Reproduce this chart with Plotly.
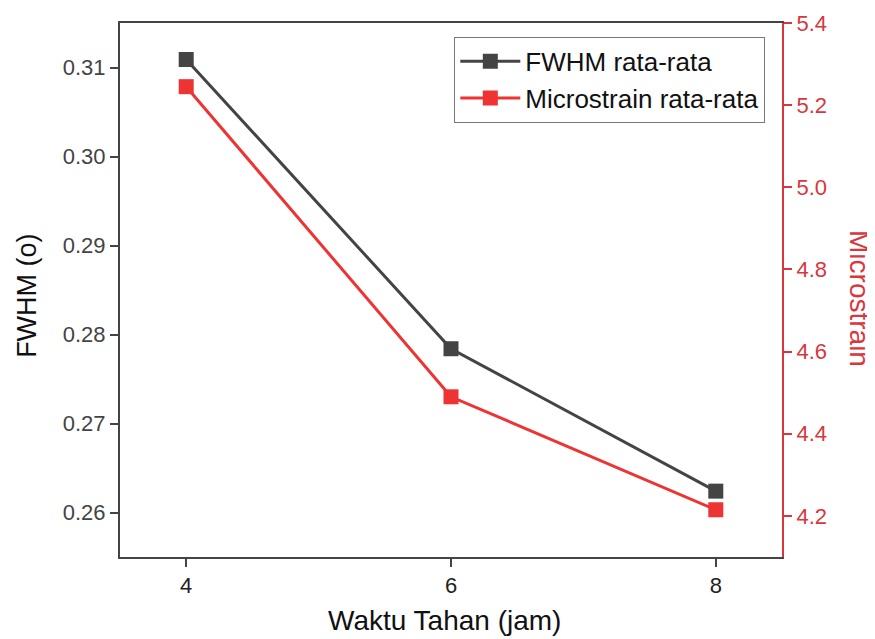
import plotly.graph_objects as go

waktu = [4, 6, 8]
fwhm = [0.3109, 0.2784, 0.2624]
microstrain = [5.245, 4.49, 4.215]

x_ticks = [4, 6, 8]
fwhm_ticks = [0.26, 0.27, 0.28, 0.29, 0.30, 0.31]
micro_ticks = [4.2, 4.4, 4.6, 4.8, 5.0, 5.2, 5.4]

BLACK = "#444444"
RED = "#ee3333"
AXRED = "#d9363e"
FONT = "Liberation Sans, Arial, sans-serif"

fig = go.Figure()
fig.add_trace(go.Scatter(
    x=waktu, y=fwhm, name="FWHM rata-rata", mode="lines+markers",
    line=dict(color=BLACK, width=3),
    marker=dict(symbol="square", size=15, color=BLACK),
    yaxis="y",
))
fig.add_trace(go.Scatter(
    x=waktu, y=microstrain, name="Microstrain rata-rata", mode="lines+markers",
    line=dict(color=RED, width=3),
    marker=dict(symbol="square", size=15, color=RED),
    yaxis="y2",
))

# the page body adds an 8px offset, so the figure is 8px smaller
fig.update_layout(
    width=867, height=631,
    margin=dict(l=112, r=93, t=15, b=82, autoexpand=False),
    paper_bgcolor="white", plot_bgcolor="white",
    font=dict(family=FONT, size=20, color=BLACK),
    showlegend=True,
    legend=dict(
        x=0.505, y=0.974, xanchor="left", yanchor="top",
        bordercolor="#777777", borderwidth=1, bgcolor="white",
        font=dict(size=26, color="#111111"),
        tracegroupgap=0, itemwidth=60,
    ),
    xaxis=dict(
        range=[3.5, 8.5], tickvals=x_ticks, ticktext=[str(v) for v in x_ticks],
        showgrid=False, zeroline=False, automargin=False,
        showline=True, linecolor=BLACK, linewidth=2, mirror=True,
        ticks="outside", ticklen=8, tickwidth=2, tickcolor=BLACK,
        tickfont=dict(size=22, color="#222222"),
    ),
    yaxis=dict(
        range=[0.255, 0.315], tickvals=fwhm_ticks,
        ticktext=[f"{v:.2f}" for v in fwhm_ticks],
        showgrid=False, zeroline=False, automargin=False,
        showline=True, linecolor=BLACK, linewidth=2,
        ticks="outside", ticklen=8, tickwidth=2, tickcolor=BLACK,
        tickfont=dict(size=22, color=BLACK),
    ),
    yaxis2=dict(
        range=[4.1, 5.4], tickvals=micro_ticks,
        ticktext=[f"{v:.1f}" for v in micro_ticks],
        overlaying="y", side="right",
        showgrid=False, zeroline=False, automargin=False,
        showline=True, linecolor=AXRED, linewidth=2,
        ticks="outside", ticklen=8, tickwidth=2, tickcolor=AXRED,
        tickfont=dict(size=22, color=AXRED),
    ),
    annotations=[
        dict(text="Microstrain", textangle=90, xref="paper", yref="paper",
             x=1.0, y=0.485, xanchor="center", yanchor="middle", xshift=78,
             showarrow=False, font=dict(size=28, color=AXRED)),
        dict(text="FWHM (o)", textangle=-90, xref="paper", yref="paper",
             x=0.0, y=0.489, xanchor="center", yanchor="middle", xshift=-93,
             showarrow=False, font=dict(size=27, color="#111111")),
        dict(text="Waktu Tahan (jam)", xref="paper", yref="paper",
             x=0.49, y=0.0, xanchor="center", yanchor="middle", yshift=-63,
             showarrow=False, font=dict(size=28, color="#111111")),
    ],
)

fig.write_html("out.html")
